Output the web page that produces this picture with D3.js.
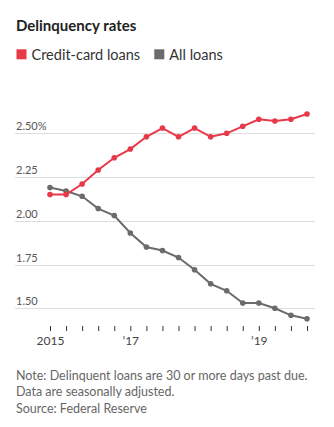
<!DOCTYPE html>
<html><head><meta charset="utf-8">
<script src="https://cdn.jsdelivr.net/npm/d3@7"></script>
<style>
html,body{margin:0;padding:0;background:#fff;}
svg{display:block;font-family:Lato,"Open Sans",sans-serif;}
</style></head>
<body><svg id="c" width="334" height="427"></svg>
<script>
const quarters = ["2015Q4","2016Q1","2016Q2","2016Q3","2016Q4","2017Q1","2017Q2","2017Q3","2017Q4","2018Q1","2018Q2","2018Q3","2018Q4","2019Q1","2019Q2","2019Q3","2019Q4"];
const creditCard = [2.15,2.15,2.21,2.29,2.36,2.41,2.48,2.53,2.48,2.53,2.48,2.50,2.54,2.58,2.57,2.58,2.61];
const allLoans = [2.19,2.17,2.14,2.07,2.03,1.93,1.85,1.83,1.79,1.72,1.64,1.60,1.53,1.53,1.50,1.46,1.44];
const yTicks = [1.50,1.75,2.00,2.25,2.50];
const yTickLabels = ["1.50","1.75","2.00","2.25","2.50%"];
const xLabels = {"2015Q4":"2015","2017Q1":"\u201917","2019Q1":"\u201919"};
const seriesNames = ["Credit-card loans","All loans"];
const colors = ["#e8394a","#6b6b6b"];

const svg = d3.select("#c");
const x = d3.scalePoint().domain(quarters).range([50,307]);
const y = d3.scaleLinear().domain([1.5,2.5]).range([308.3,133.3]);

svg.append("text").attr("x",16).attr("y",31).attr("font-size",15).attr("font-weight",700).attr("fill","#222").text("Delinquency rates");

// legend
const lg = svg.append("g");
let lx = [16.5,154.3];
seriesNames.forEach((n,i)=>{
  lg.append("rect").attr("x",lx[i]).attr("y",49.3).attr("width",10).attr("height",10).attr("fill",colors[i]);
  lg.append("text").attr("x",lx[i]+15).attr("y",59.5).attr("font-size",14.5).attr("fill","#333").text(n);
});

// grid
const ya = svg.append("g");
yTicks.forEach((t,i)=>{
  ya.append("line").attr("x1",15).attr("x2",315).attr("y1",Math.round(y(t))+0.5).attr("y2",Math.round(y(t))+0.5).attr("stroke","#ddd").attr("stroke-width",1);
  ya.append("text").attr("x",16).attr("y",y(t)-3).attr("font-size",11).attr("fill","#555").text(yTickLabels[i]);
});

// x axis
const xa = svg.append("g").attr("transform","translate(0,326)")
  .call(d3.axisBottom(x).tickSize(5).tickFormat(d=>xLabels[d]||""));
xa.select(".domain").remove();
xa.selectAll("line").attr("stroke","#333");
xa.selectAll("text").attr("font-size",12).attr("fill","#444").attr("font-family","Lato,sans-serif").attr("dy","0.95em");

const line = d3.line().x((d,i)=>x(quarters[i])).y(d=>y(d));
[allLoans,creditCard].forEach((s,k)=>{
  const c = k===0?colors[1]:colors[0];
  svg.append("path").datum(s).attr("d",line).attr("fill","none").attr("stroke",c).attr("stroke-width",2);
  svg.append("g").selectAll("circle").data(s).join("circle")
    .attr("cx",(d,i)=>x(quarters[i])).attr("cy",d=>y(d)).attr("r",2.8).attr("fill",c);
});

const notes = ["Note: Delinquent loans are 30 or more days past due.","Data are seasonally adjusted.","Source: Federal Reserve"];
notes.forEach((n,i)=>{
  svg.append("text").attr("x",16).attr("y",380+i*16.3).attr("font-size",12.5).attr("fill","#666").text(n);
});
</script></body></html>
